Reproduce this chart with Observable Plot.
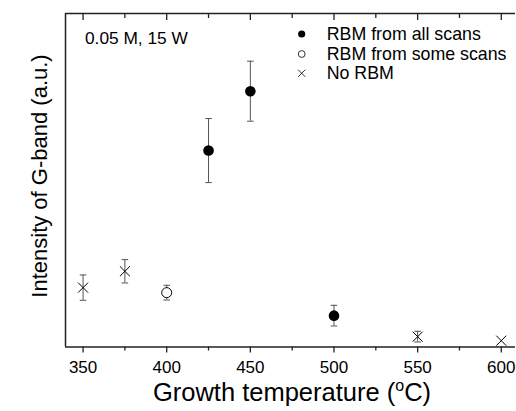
<!DOCTYPE html>
<html>
<head>
<meta charset="utf-8">
<script src="https://cdn.jsdelivr.net/npm/d3@7"></script>
<script src="https://cdn.jsdelivr.net/npm/@observablehq/plot@0.6"></script>
<style>
  html, body { margin: 0; padding: 0; background: #fff; }
  #chart { width: 516px; height: 411px; overflow: hidden; }
</style>
</head>
<body>
<div id="chart"></div>
<script>
// ---- data ----
const temps = [350, 375, 400, 425, 450, 500, 550, 600];
const intensity = [17.8, 22.7, 16.3, 58.9, 76.7, 9.4, 3.1, 1.9];
const errors = [3.8, 3.5, 2.2, 9.6, 9.0, 3.1, 1.6, 0];
const status = ["none", "none", "some", "all", "all", "all", "none", "none"];

const majorTicks = [350, 400, 450, 500, 550, 600];
const minorTicks = [375, 425, 475, 525, 575];
const legendKeys = ["all", "some", "none"];
const legendLabels = ["RBM from all scans", "RBM from some scans", "No RBM"];
const annotation = "0.05 M, 15 W";
const xTitle = ["Growth temperature (", "o", "C)"];
const yTitle = "Intensity of G-band (a.u.)";

const xDomain = [339.5, 608.5];
const yDomain = [0, 100];

const data = temps.map((t, i) => ({x: t, y: intensity[i], err: errors[i], status: status[i]}));
const withErr = data.filter(d => d.err > 0);

// horizontal-line symbol for error-bar caps
const capSymbol = {
  draw(context, size) {
    const w = Math.sqrt(size / Math.PI);
    context.moveTo(-w, 0);
    context.lineTo(w, 0);
  }
};

const font = "'Liberation Sans', Arial, Helvetica, sans-serif";
const W = 516, H = 411;

const chart = Plot.plot({
  width: W,
  height: H,
  marginLeft: 65,
  marginRight: 1,
  marginTop: 13,
  marginBottom: 64.5,
  style: {fontFamily: font, fontSize: "17px", color: "#000", background: "#fff"},
  x: {domain: xDomain, label: null},
  y: {domain: yDomain, label: null},
  marks: [
    // frame lines (left, bottom, top)
    Plot.ruleX([xDomain[0]], {stroke: "#222", strokeWidth: 1.5}),
    Plot.ruleY([yDomain[0]], {stroke: "#222", strokeWidth: 1.5}),
    Plot.ruleY([yDomain[1]], {stroke: "#222", strokeWidth: 1.5}),
    // bottom axis
    Plot.axisX(majorTicks, {anchor: "bottom", tickSize: 6, tickPadding: 8, tickFormat: d => String(d), stroke: "#222", strokeWidth: 1.3, fill: "#000"}),
    Plot.axisX(minorTicks, {anchor: "bottom", tickSize: 4, text: null, stroke: "#222", strokeWidth: 1.3}),
    // top axis (inward ticks)
    Plot.axisX(majorTicks, {anchor: "top", tickSize: -6, text: null, stroke: "#222", strokeWidth: 1.3}),
    Plot.axisX(minorTicks, {anchor: "top", tickSize: -4, text: null, stroke: "#222", strokeWidth: 1.3}),
    Plot.axisY({ticks: [], label: null, tickSize: 0}),
    // error bars
    Plot.ruleX(withErr, {x: "x", y1: d => d.y - d.err, y2: d => d.y + d.err, stroke: "#555", strokeWidth: 1}),
    Plot.dot(withErr, {x: "x", y: d => d.y + d.err, symbol: capSymbol, r: 3.3, stroke: "#555", strokeWidth: 1}),
    Plot.dot(withErr, {x: "x", y: d => d.y - d.err, symbol: capSymbol, r: 3.3, stroke: "#555", strokeWidth: 1}),
    // points
    Plot.dot(data.filter(d => d.status === "all"), {x: "x", y: "y", r: 5.3, fill: "#000", stroke: "none"}),
    Plot.dot(data.filter(d => d.status === "some"), {x: "x", y: "y", r: 5, fill: "#fff", stroke: "#000", strokeWidth: 1}),
    Plot.dot(data.filter(d => d.status === "none"), {x: "x", y: "y", r: 4.6, symbol: "times", stroke: "#000", strokeWidth: 1})
  ]
});

const svg = d3.select(chart.tagName.toLowerCase() === "svg" ? chart : chart.querySelector("svg"));

// annotation
svg.append("text")
  .attr("x", 85).attr("y", 37.7)
  .attr("text-anchor", "start")
  .attr("dominant-baseline", "central")
  .attr("font-family", font).attr("font-size", 17.3).attr("fill", "#000")
  .text(annotation);

// legend
const legend = svg.append("g");
const legendY = [34, 54, 73.3];
legendKeys.forEach((k, i) => {
  const cx = 301.7, cy = legendY[i];
  if (k === "all") {
    legend.append("circle").attr("cx", cx).attr("cy", cy).attr("r", 3.6).attr("fill", "#000");
  } else if (k === "some") {
    legend.append("circle").attr("cx", cx).attr("cy", cy).attr("r", 3.4).attr("fill", "#fff").attr("stroke", "#000").attr("stroke-width", 0.8);
  } else {
    legend.append("path").attr("d", `M${cx-3.6},${cy-3.6}L${cx+3.6},${cy+3.6}M${cx-3.6},${cy+3.6}L${cx+3.6},${cy-3.6}`)
      .attr("stroke", "#000").attr("stroke-width", 0.8).attr("fill", "none");
  }
  legend.append("text")
    .attr("x", 326.7).attr("y", cy)
    .attr("text-anchor", "start")
    .attr("dominant-baseline", "central")
    .attr("font-family", font).attr("font-size", 17.8).attr("fill", "#000")
    .text(legendLabels[i]);
});

// x title with superscript o
const xt = svg.append("text")
  .attr("x", 292).attr("y", 401)
  .attr("text-anchor", "middle")
  .attr("font-family", font).attr("font-size", 25.5).attr("fill", "#000");
xt.append("tspan").text(xTitle[0]);
xt.append("tspan").attr("font-size", 16).attr("dy", -10).text(xTitle[1]);
xt.append("tspan").attr("dy", 10).text(xTitle[2]);

// y title
svg.append("text")
  .attr("transform", "translate(39,176) rotate(-90)")
  .attr("text-anchor", "middle")
  .attr("dominant-baseline", "central")
  .attr("font-family", font).attr("font-size", 22).attr("fill", "#000")
  .text(yTitle);

document.getElementById("chart").appendChild(chart);
</script>
</body>
</html>
